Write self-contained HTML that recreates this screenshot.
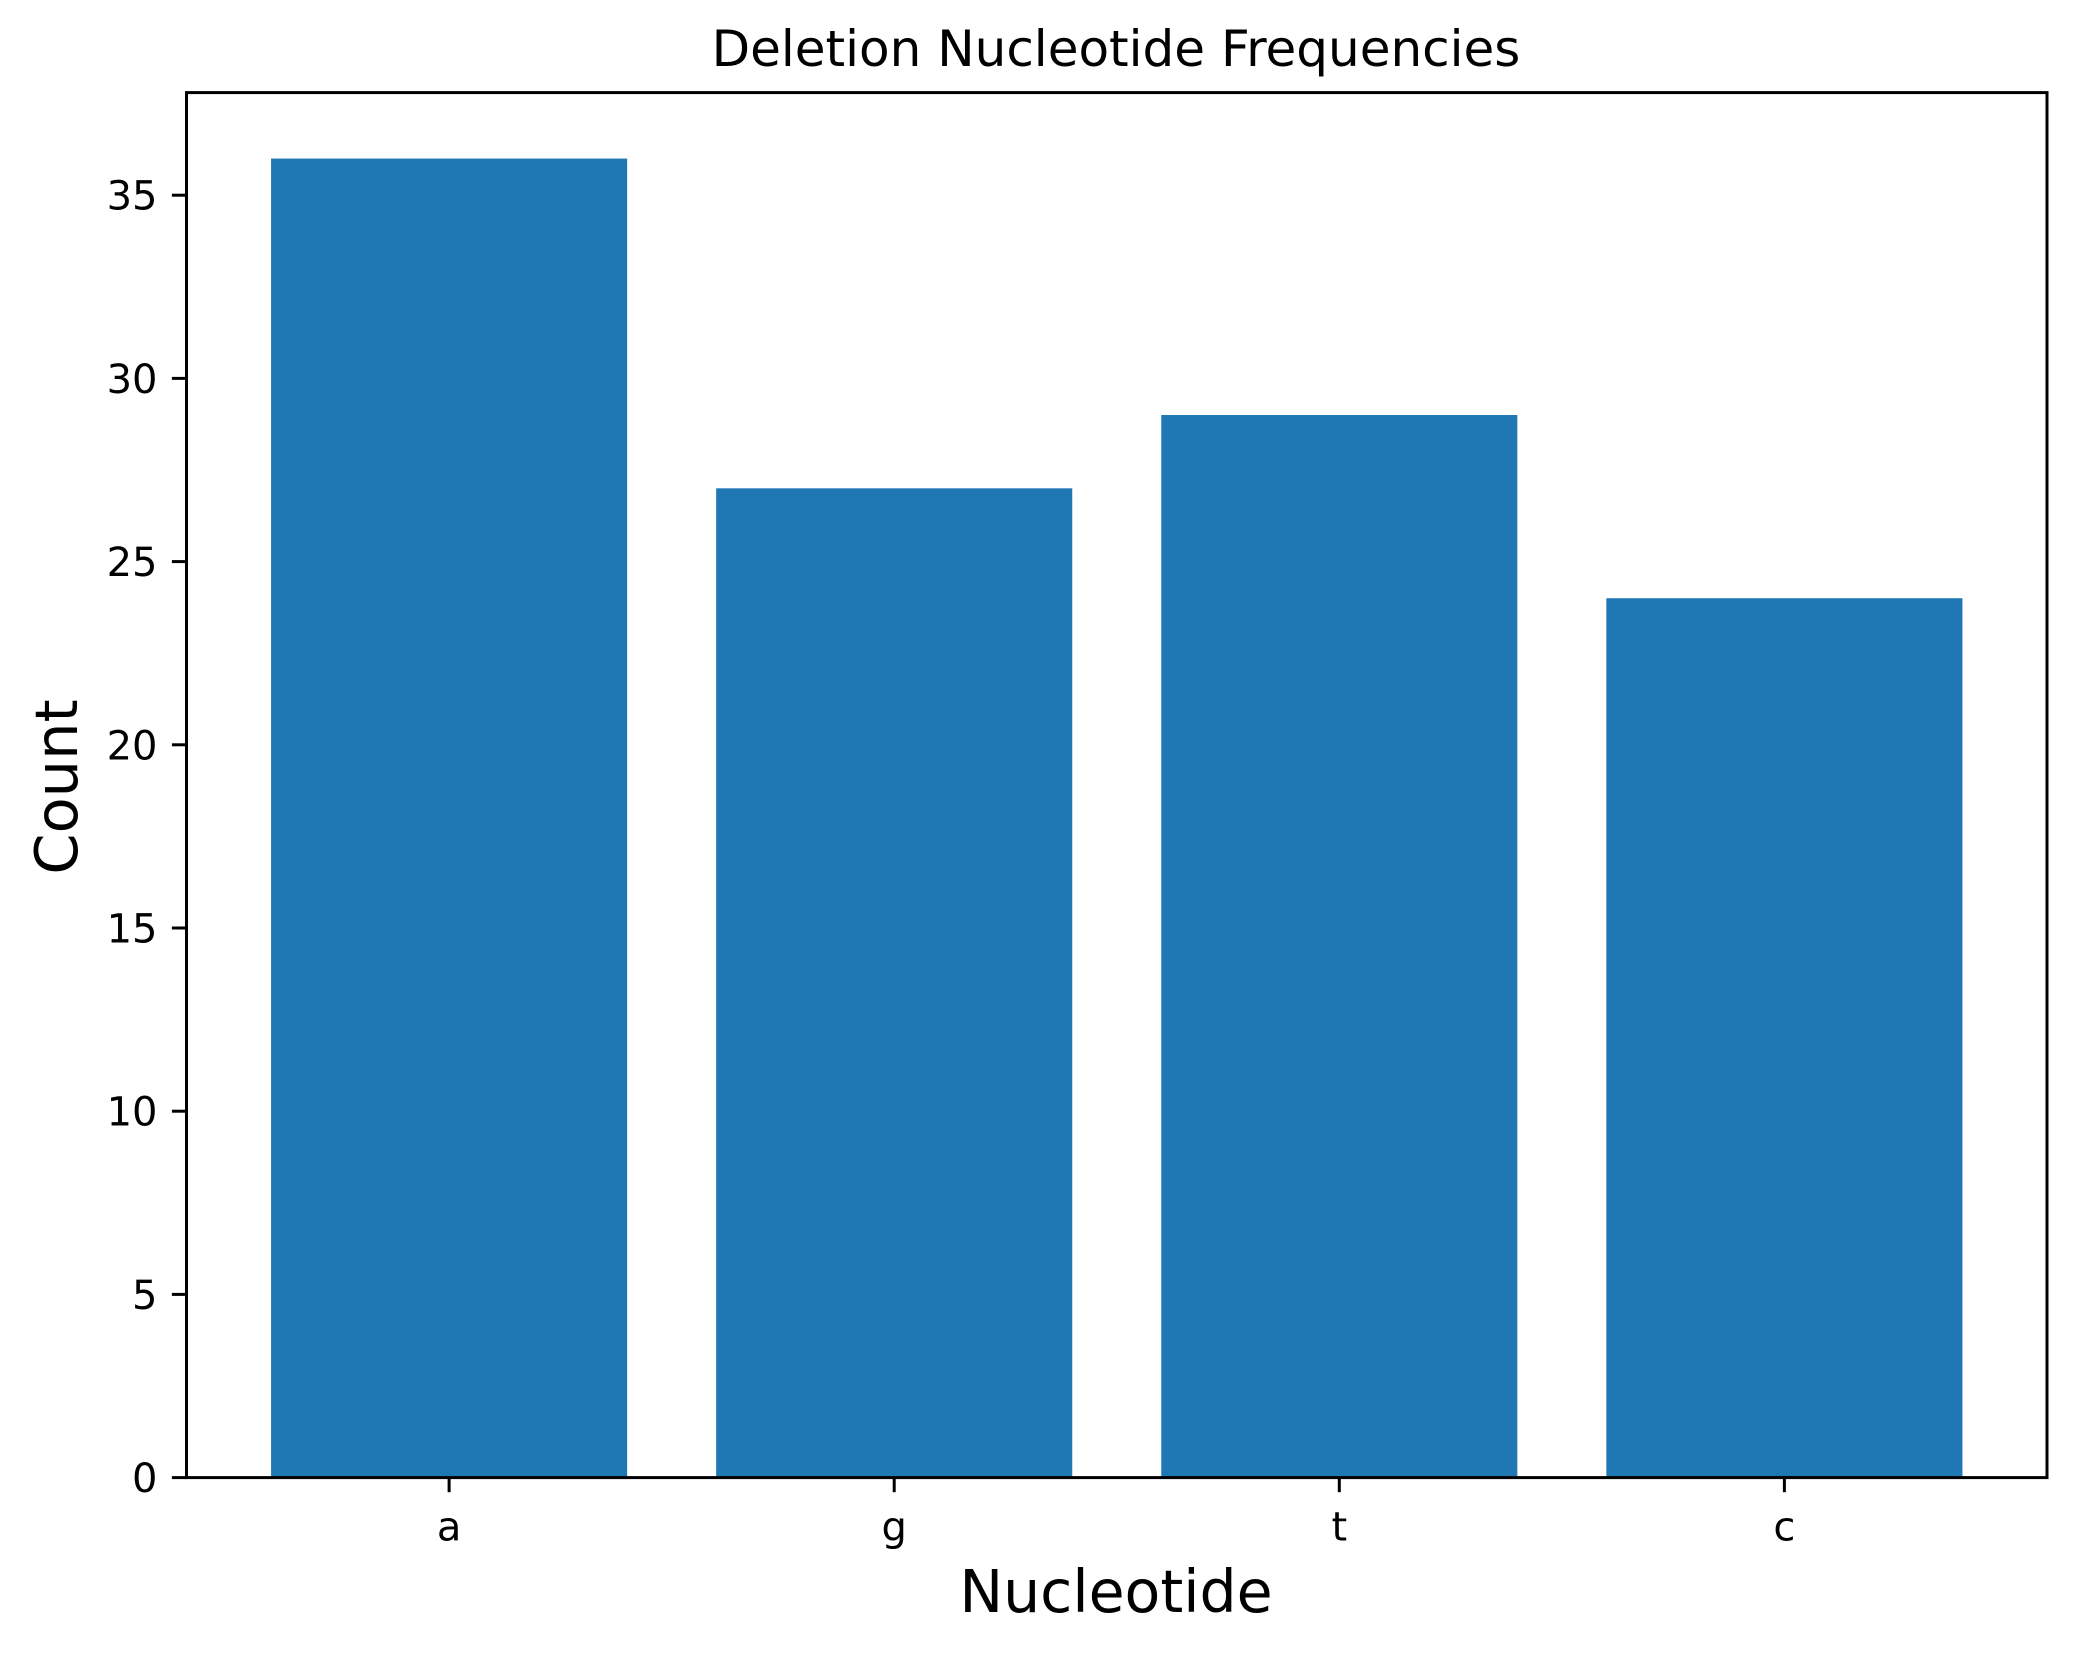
<!DOCTYPE html>
<html><head><meta charset="utf-8"><style>
html,body{margin:0;padding:0;background:#fff;}
svg{display:block;font-family:"DejaVu Sans","Liberation Sans",sans-serif;}
</style></head><body>
<svg id="chart" width="2075" height="1653" viewBox="0 0 2075 1653" xmlns="http://www.w3.org/2000/svg">
<rect width="2075" height="1653" fill="#fff"/>
<text x="1116" y="66" text-anchor="middle" font-size="50">Deletion Nucleotide Frequencies</text>
<text x="1116" y="1612" text-anchor="middle" font-size="58.5">Nucleotide</text>
<text transform="translate(77,787) rotate(-90)" text-anchor="middle" font-size="59">Count</text>
<g id="bars"></g>
<g id="yticks"></g>
<g id="xticks"></g>
<rect x="186.5" y="92.6" width="1860.5" height="1385" fill="none" stroke="#000" stroke-width="3"/>
</svg>
<script>
const categories = ["a", "g", "t", "c"];
const counts = [36, 27, 29, 24];
const yTickValues = [0, 5, 10, 15, 20, 25, 30, 35];
const yTickLabels = ["0", "5", "10", "15", "20", "25", "30", "35"];

const L = 186.5, R = 2047, T = 92.6, B = 1477.6;
const xMin = -0.59, xMax = 3.59, yMin = 0, yMax = 37.8;
const xs = v => L + (v - xMin) / (xMax - xMin) * (R - L);
const ys = v => B - (v - yMin) / (yMax - yMin) * (B - T);
const NS = "http://www.w3.org/2000/svg";
function mk(tag, attrs, parent) {
  const e = document.createElementNS(NS, tag);
  for (const k in attrs) e.setAttribute(k, attrs[k]);
  parent.appendChild(e);
  return e;
}
const bars = document.getElementById('bars');
const barW = 0.8;
counts.forEach((v, i) => {
  const r = mk('rect', {x: xs(i - barW / 2), y: ys(v), width: xs(i + barW / 2) - xs(i - barW / 2), height: ys(0) - ys(v), fill: '#1f77b4'}, bars);
  
  
});
const yt = document.getElementById('yticks');
yTickValues.forEach((v, i) => {
  const l = mk('line', {x1: L - 14.6, x2: L, y1: ys(v), y2: ys(v), stroke: '#000', 'stroke-width': 3}, yt);
  
  
  const t = mk('text', {x: L - 29, y: ys(v) + 14.5, 'text-anchor': 'end', 'font-size': 40}, yt);
  t.textContent = yTickLabels[i];
  
  
});
const xt = document.getElementById('xticks');
categories.forEach((c, i) => {
  const l = mk('line', {x1: xs(i), x2: xs(i), y1: B, y2: B + 14.6, stroke: '#000', 'stroke-width': 3}, xt);
  
  
  const t = mk('text', {x: xs(i), y: B + 63, 'text-anchor': 'middle', 'font-size': 40}, xt);
  t.textContent = c;
  
  
});
</script>
</body></html>
